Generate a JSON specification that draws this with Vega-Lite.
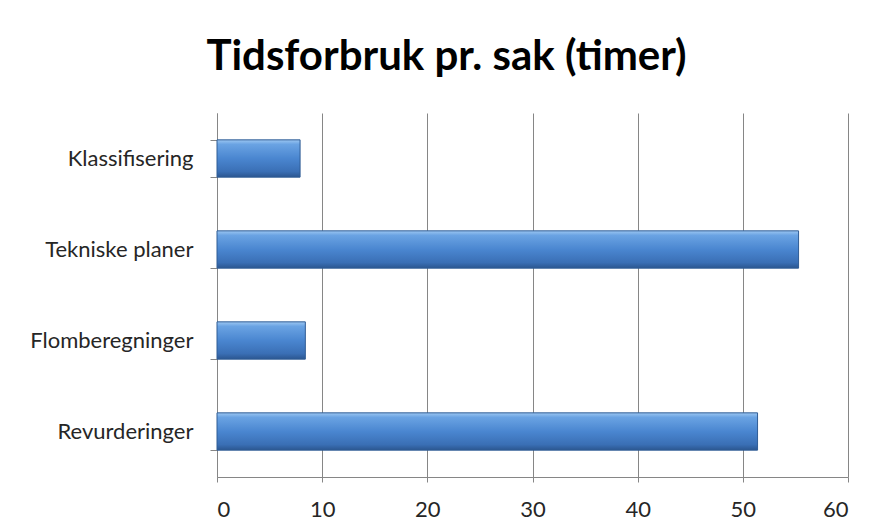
{
  "$schema": "https://vega.github.io/schema/vega-lite/v6.json",
  "width": 631,
  "height": 364,
  "autosize": "none",
  "padding": {"left": 217, "top": 113, "right": 27, "bottom": 55},
  "background": "white",
  "title": {
    "text": "Tidsforbruk pr. sak (timer)",
    "font": "Lato",
    "fontSize": 42,
    "fontWeight": "bold",
    "color": "#000000",
    "anchor": "middle",
    "baseline": "alphabetic",
    "offset": -10,
    "dx": -86
  },
  "data": {
    "values": [
      {"kategori": "Klassifisering", "timer": 7.9},
      {"kategori": "Tekniske planer", "timer": 55.3},
      {"kategori": "Flomberegninger", "timer": 8.4},
      {"kategori": "Revurderinger", "timer": 51.4}
    ]
  },
  "mark": {
    "type": "bar",
    "stroke": "#2f5c95",
    "strokeWidth": 1,
    "color": {
      "gradient": "linear",
      "x1": 0, "y1": 0, "x2": 0, "y2": 1,
      "stops": [
        {"offset": 0, "color": "#9cc7f2"},
        {"offset": 0.12, "color": "#6aa3e3"},
        {"offset": 0.5, "color": "#4a86d0"},
        {"offset": 0.85, "color": "#3a6fb5"},
        {"offset": 1, "color": "#2b5690"}
      ]
    }
  },
  "encoding": {
    "y": {
      "field": "kategori",
      "type": "nominal",
      "sort": null,
      "title": null,
      "scale": {"paddingInner": 0.59, "paddingOuter": 0.295},
      "axis": {
        "grid": false,
        "domainColor": "#868686",
        "tickColor": "#868686",
        "tickBand": "extent",
        "tickSize": 7,
        "labelPadding": 17,
        "labelFont": "Lato",
        "labelFontSize": 22,
        "labelColor": "#262626"
      }
    },
    "x": {
      "field": "timer",
      "type": "quantitative",
      "title": null,
      "scale": {"domain": [0, 60], "nice": false},
      "axis": {
        "values": [0, 10, 20, 30, 40, 50, 60],
        "grid": true,
        "gridColor": "#868686",
        "domainColor": "#868686",
        "tickColor": "#868686",
        "tickSize": 5,
        "labelPadding": 17,
        "labelFont": "Lato",
        "labelFontSize": 22,
        "labelColor": "#262626"
      }
    }
  },
  "config": {
    "view": {"stroke": null}
  }
}
